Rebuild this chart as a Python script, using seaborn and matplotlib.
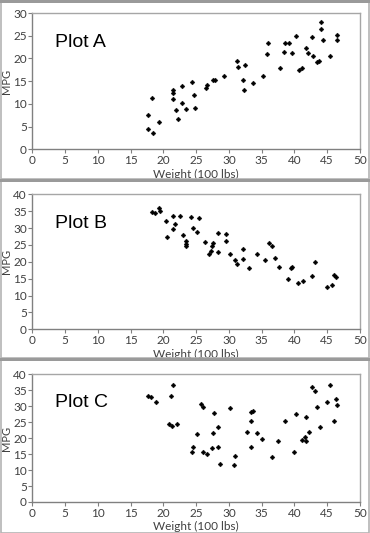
import pandas as pd
import matplotlib
matplotlib.use("Agg")
import matplotlib.pyplot as plt
from matplotlib.patches import Rectangle
import seaborn as sns

# Datos: peso (100 lbs) y MPG
weight_a = [17.6, 17.6, 18.4, 18.3, 19.3, 21.4, 21.5, 21.5, 21.9, 22.2, 22.8, 22.9, 23.5,
            24.3, 24.6, 24.8, 26.5, 26.6, 27.5, 27.9, 29.3, 31.2, 31.4, 32.1, 32.4, 32.3,
            33.7, 35.2, 35.8, 35.9, 37.8, 38.4, 38.5, 39.2, 39.7, 40.2, 40.7, 41.2, 41.8,
            42.1, 42.6, 42.9, 43.4, 43.8, 44.1, 44.1, 44.3, 45.4, 46.5, 46.5]
mpg_a = [4.4, 7.5, 3.5, 11.3, 5.9, 13.0, 12.5, 11.1, 8.7, 6.6, 13.9, 10.3, 8.8,
         14.8, 12.0, 9.1, 13.4, 14.2, 15.3, 15.3, 16.2, 19.4, 18.2, 15.2, 18.6, 13.1,
         14.5, 16.1, 21.0, 23.5, 17.8, 21.4, 23.5, 23.5, 21.3, 24.9, 17.5, 17.8, 22.2,
         21.1, 24.7, 20.5, 19.3, 19.4, 28.1, 26.4, 24.0, 20.6, 25.1, 24.1]

weight_b = [18.2, 18.7, 19.3, 19.5, 20.4, 20.6, 21.5, 21.8, 21.5, 22.6, 23.0, 23.4, 23.4,
            23.4, 24.2, 24.5, 25.1, 25.5, 26.3, 27.0, 27.2, 27.4, 27.5, 28.3, 28.3, 29.5,
            29.6, 30.1, 31.0, 31.2, 32.1, 32.2, 33.0, 34.3, 35.5, 36.1, 36.6, 37.0, 37.6,
            39.0, 39.4, 39.6, 40.5, 41.3, 42.7, 43.2, 44.9, 45.8, 46.0, 46.4]
mpg_b = [34.7, 34.6, 35.8, 35.1, 32.1, 27.4, 33.6, 31.2, 29.7, 33.6, 28.0, 26.1, 25.2,
         24.8, 33.2, 29.9, 28.9, 33.0, 26.0, 22.2, 23.3, 24.6, 25.5, 28.5, 22.9, 26.1,
         28.3, 22.2, 20.5, 19.4, 23.8, 20.8, 18.3, 22.4, 20.4, 25.5, 24.7, 21.1, 18.5,
         14.8, 18.1, 18.4, 13.8, 14.3, 15.9, 19.8, 12.4, 13.0, 16.2, 15.4]

weight_c = [17.7, 18.1, 18.9, 21.1, 21.5, 20.8, 21.3, 22.1, 24.3, 24.5, 25.2, 25.7, 26.0,
            26.1, 26.6, 27.4, 27.5, 27.7, 28.3, 28.3, 28.6, 30.2, 30.7, 31.0, 32.7, 33.3,
            33.7, 33.3, 33.4, 34.3, 35.1, 36.6, 37.5, 38.5, 40.0, 40.3, 41.2, 41.6, 41.8,
            41.8, 42.2, 42.7, 43.2, 43.4, 43.9, 44.9, 45.4, 46.1, 46.3, 46.5]
mpg_c = [33.3, 32.8, 31.4, 33.2, 36.8, 24.5, 23.9, 24.3, 15.8, 17.3, 21.4, 30.8, 29.7,
         15.7, 14.9, 16.9, 21.7, 27.9, 23.5, 17.3, 11.8, 29.6, 11.6, 14.5, 22.0, 28.1,
         28.5, 25.3, 17.1, 21.5, 19.8, 14.0, 19.0, 25.5, 15.8, 27.6, 19.4, 20.4, 19.2,
         26.5, 21.8, 35.9, 34.9, 29.8, 23.5, 31.4, 36.6, 25.5, 32.3, 30.5]

titles = ["Plot A", "Plot B", "Plot C"]
y_max = [30, 40, 40]

sns.set_style("white")
plt.rcParams['font.family'] = ['Lato', 'DejaVu Sans']

fig = plt.figure(figsize=(3.7, 5.33), dpi=100)
W, H = 370, 533

# posiciones en pixeles: (top, bottom) de cada area de grafico
ejes = [(13, 149.3), (194.3, 329.3), (374.3, 502)]
paneles = [(0, 179), (181, 358), (360, 533)]
datos = [(weight_a, mpg_a), (weight_b, mpg_b), (weight_c, mpg_c)]

# marcos grises de cada panel
for top, bot in paneles:
    fig.add_artist(Rectangle((0.5 / W, 1 - bot / H), 368.5 / W, (bot - top) / H,
                             transform=fig.transFigure, fill=False,
                             edgecolor='#b4b4b4', linewidth=1.2))
for y in [0, 179, 358]:
    fig.add_artist(Rectangle((0, 1 - (y + 3) / H), 1, 3 / H, transform=fig.transFigure,
                             facecolor='#9a9a9a', edgecolor='none'))

for i in range(3):
    top, bot = ejes[i]
    ax = fig.add_axes([32.3 / W, 1 - bot / H, (360 - 32.3) / W, (bot - top) / H])
    df = pd.DataFrame({'Weight': datos[i][0], 'MPG': datos[i][1]})
    sns.scatterplot(data=df, x='Weight', y='MPG', ax=ax, marker='D', s=6,
                    color='black', edgecolor='black', linewidth=0.3)
    ax.set_xlim(0, 50)
    ax.set_ylim(0, y_max[i])
    ax.set_xticks(range(0, 51, 5))
    ax.set_yticks(range(0, y_max[i] + 1, 5))
    ax.tick_params(axis='both', which='major', labelsize=8.5, length=3, width=0.8,
                   color='#808080', labelcolor='#404040', pad=1, direction='out',
                   bottom=True, left=True)
    for lado in ['top', 'right']:
        ax.spines[lado].set_color('#a6a6a6')
        ax.spines[lado].set_linewidth(1)
    for lado in ['left', 'bottom']:
        ax.spines[lado].set_color('#808080')
        ax.spines[lado].set_linewidth(1)
    ax.set_xlabel('Weight (100 lbs)', fontsize=8.5, color='#404040', labelpad=2)
    ax.set_ylabel('MPG', fontsize=8, color='#404040', labelpad=0.5)
    ax.text(0.07, 0.78, titles[i], transform=ax.transAxes, fontsize=14,
            family=['Liberation Sans', 'DejaVu Sans'], color='black', va='center')

fig.savefig('out.png', dpi=100)
